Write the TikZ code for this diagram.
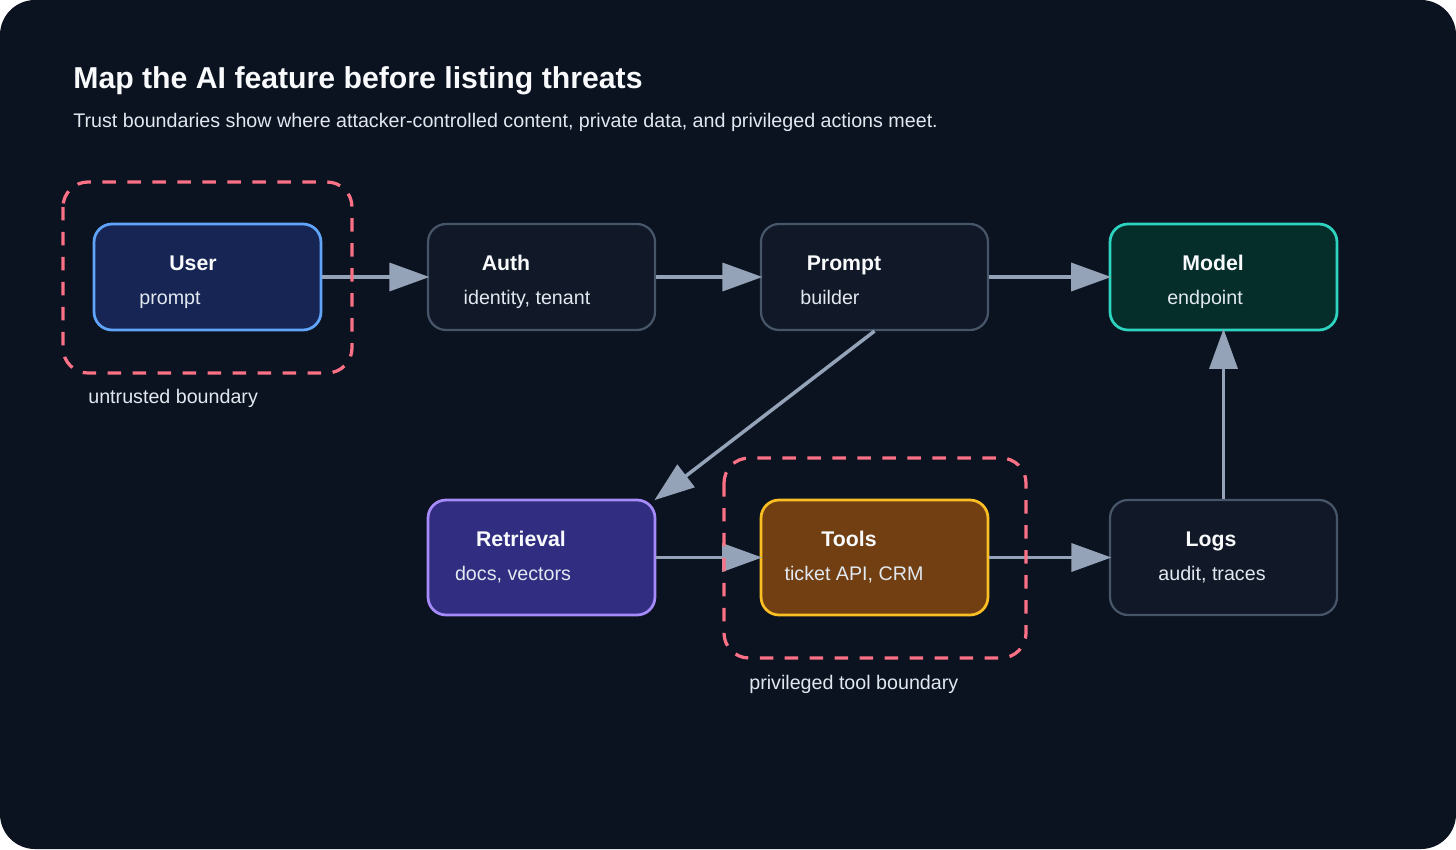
\documentclass[tikz,border=0pt]{standalone}
\usepackage{fontspec}
\setmainfont{Liberation Sans}
\usepackage{xcolor}
\usepackage{tikz}
\usetikzlibrary{shapes,arrows.meta,positioning}

\definecolor{canvas}{HTML}{0B1220}
\definecolor{panel}{HTML}{111827}
\definecolor{panelline}{HTML}{475569}
\definecolor{userfill}{HTML}{172554}
\definecolor{userline}{HTML}{60A5FA}
\definecolor{modelfill}{HTML}{052E2B}
\definecolor{modelline}{HTML}{2DD4BF}
\definecolor{retrfill}{HTML}{312E81}
\definecolor{retrline}{HTML}{A78BFA}
\definecolor{toolfill}{HTML}{713F12}
\definecolor{toolline}{HTML}{FBBF24}
\definecolor{flowgray}{HTML}{94A3B8}
\definecolor{rose}{HTML}{FB7185}
\definecolor{headtext}{HTML}{F8FAFC}
\definecolor{softtext}{HTML}{E2E8F0}

\begin{document}
\begin{tikzpicture}[x=0.02cm, y=-0.02cm,
    box/.style={rectangle, rounded corners=0.36cm, minimum width=4.54cm, minimum height=2.12cm, line width=0.055cm, inner sep=0pt},
    plain/.style={box, fill=panel, draw=panelline, line width=0.045cm},
    ttl/.style={anchor=base, text=headtext, font=\bfseries\fontsize{12.1}{14}\selectfont},
    sub/.style={anchor=base, text=softtext, font=\fontsize{11.2}{13}\selectfont},
    flow/.style={draw=flowgray, line width=0.07cm, shorten >=-0.05cm, -{Triangle[length=0.8cm, width=0.56cm, fill=flowgray]}},
    boundary/.style={draw=rose, line width=0.065cm, dash pattern=on 0.27cm off 0.23cm, rounded corners=0.5cm}]
    \useasboundingbox (0,0) rectangle (1456,849);
    \fill [canvas, rounded corners=0.7cm] (0,0) rectangle (1456,849);

    \node [anchor=base west, text=headtext, font=\bfseries\fontsize{17.2}{20}\selectfont, inner sep=0pt] (heading) at (73,88) {Map the AI feature before listing threats};
    \node [anchor=base west, text=softtext, font=\fontsize{11.2}{13}\selectfont, inner sep=0pt] (lede) at (73,127) {Trust boundaries show where attacker-controlled content, private data, and privileged actions meet.};

    \node [box, fill=userfill, draw=userline] (user) at (207.5,277) {};
    \node [plain] (auth) at (541.5,277) {};
    \node [plain] (prompt) at (874.5,277) {};
    \node [box, fill=modelfill, draw=modelline] (model) at (1223.5,277) {};
    \node [box, fill=retrfill, draw=retrline, minimum height=2.3cm] (retrieval) at (541.5,557.5) {};
    \node [box, fill=toolfill, draw=toolline, minimum height=2.3cm] (tools) at (874.5,557.5) {};
    \node [plain, minimum height=2.3cm] (logs) at (1223.5,557.5) {};

    \node [ttl] (usertitle) at (193,270) {User};
    \node [sub] (usersub) at (170,304) {prompt};
    \node [ttl] (authtitle) at (506,270) {Auth};
    \node [sub] (authsub) at (527,304) {identity, tenant};
    \node [ttl] (prompttitle) at (844,270) {Prompt};
    \node [sub] (promptsub) at (830,304) {builder};
    \node [ttl] (modeltitle) at (1213,270) {Model};
    \node [sub] (modelsub) at (1205,304) {endpoint};
    \node [ttl] (retrtitle) at (521,546) {Retrieval};
    \node [sub] (retrsub) at (513,580) {docs, vectors};
    \node [ttl] (tooltitle) at (849,546) {Tools};
    \node [sub] (toolsub) at (854,580) {ticket API, CRM};
    \node [ttl] (logtitle) at (1211,546) {Logs};
    \node [sub] (logsub) at (1212,580) {audit, traces};

    \draw [flow] (user) -- (auth);
    \draw [flow] (auth) -- (prompt);
    \draw [flow] (prompt) -- (model);
    \draw [flow] (prompt.south) -- (retrieval.north east);
    \draw [flow] (retrieval) -- (tools);
    \draw [flow] (tools) -- (logs);
    \draw [flow] (logs) -- (model);

    \draw [boundary] (63,182) rectangle (352,373);
    \draw [boundary] (724,458) rectangle (1026,658);
    \node [anchor=base west, text=softtext, font=\fontsize{11.2}{13}\selectfont, inner sep=0pt] (untrusted) at (88,403) {untrusted boundary};
    \node [anchor=base west, text=softtext, font=\fontsize{11.2}{13}\selectfont, inner sep=0pt] (privileged) at (749,689) {privileged tool boundary};
\end{tikzpicture}
\end{document}
